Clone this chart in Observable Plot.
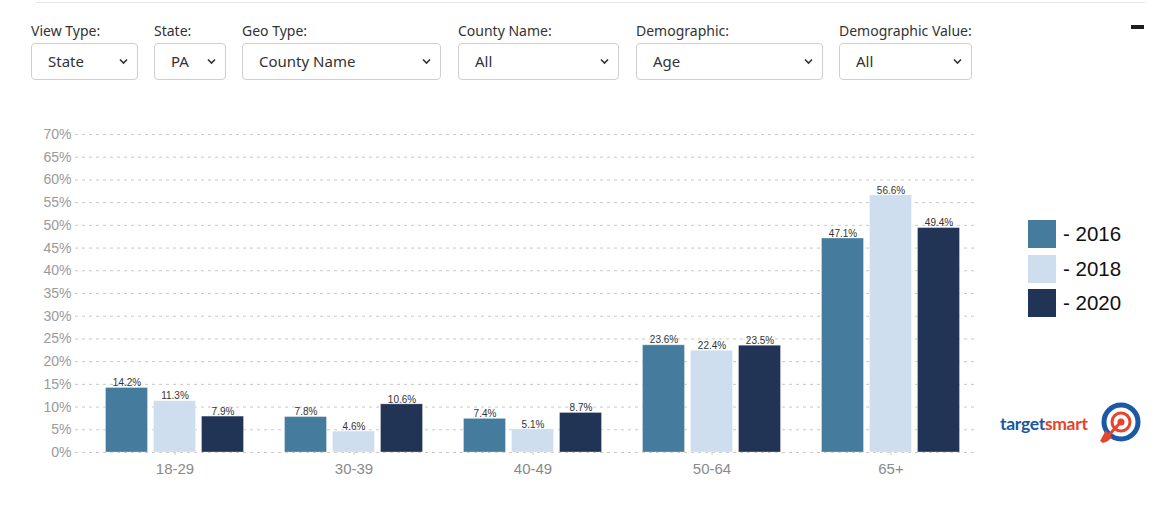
<!DOCTYPE html>
<html><head><meta charset="utf-8">
<script src="https://cdn.jsdelivr.net/npm/d3@7"></script>
<script src="https://cdn.jsdelivr.net/npm/@observablehq/plot@0.6"></script>
<style>
html,body{margin:0;padding:0;background:#fff;}
body{width:1165px;height:512px;position:relative;overflow:hidden;font-family:"Noto Sans",sans-serif;}
.topline{position:absolute;left:36px;top:2px;width:1109px;height:1px;background:#e6e6e6;}
.lbl{position:absolute;top:21px;font-size:14px;color:#333;line-height:20px;white-space:nowrap;}
.sel{position:absolute;top:43px;height:35px;border:1px solid #cfcfcf;border-radius:4px;box-sizing:content-box;font-size:15px;color:#333;line-height:35px;white-space:nowrap;}
.sel span{position:absolute;left:16px;top:0;}
.sel svg{position:absolute;right:9px;top:14px;}
.minus{position:absolute;left:1131px;top:25px;width:13px;height:4px;background:#1b1f24;}
#chart{position:absolute;left:0;top:100px;}
.sw{position:absolute;left:1028px;width:28px;height:28px;}
.lt{position:absolute;left:1063px;font-family:"Liberation Sans",Arial,sans-serif;font-size:20.5px;color:#111;line-height:28px;}
#logo{position:absolute;left:990px;top:395px;}
</style>
</head><body>
<div class="topline"></div>
<div id="controls"></div>
<div class="minus"></div>
<div id="chart"></div>
<div id="legend"></div>
<svg id="logo" width="160" height="55" viewBox="990 395 160 55">
  <text x="1000" y="430" font-family="Lato, 'Noto Sans', sans-serif" font-weight="700" font-size="17.5" letter-spacing="-0.3"><tspan fill="#1d55a1">target</tspan><tspan fill="#e8432d">smart</tspan></text>
  <circle cx="1121" cy="422" r="17" fill="#fff" stroke="#1b58a5" stroke-width="5"/>
  <circle cx="1121" cy="422" r="9" fill="#fff" stroke="#e8432d" stroke-width="3"/>
  <circle cx="1121" cy="422" r="3.5" fill="#e8432d"/>
  <line x1="1108" y1="436" x2="1119" y2="424" stroke="#e8432d" stroke-width="3"/>
  <polygon points="1100,441 1106,430 1109,434 1112,437 1108,441 1103,443" fill="#e8432d"/>
</svg>
<script>
// ---- data ----
const groups = ["18-29", "30-39", "40-49", "50-64", "65+"];
const years = ["2016", "2018", "2020"];
const values2016 = [14.2, 7.8, 7.4, 23.6, 47.1];
const values2018 = [11.3, 4.6, 5.1, 22.4, 56.6];
const values2020 = [7.9, 10.6, 8.7, 23.5, 49.4];
const yTicks = [0, 5, 10, 15, 20, 25, 30, 35, 40, 45, 50, 55, 60, 65, 70];
const filterLabels = ["View Type:", "State:", "Geo Type:", "County Name:", "Demographic:", "Demographic Value:"];
const filterValues = ["State", "PA", "County Name", "All", "Age", "All"];

// ---- styles / layout ----
const yearColors = ["#457b9d", "#cfdeee", "#213456"];
const filterBoxes = [[31, 107], [154, 72], [242, 199], [458, 161], [636, 187], [839, 133]];
const barOffsets = [-48, 0, 48];

// controls
const ctrl = document.getElementById("controls");
filterLabels.forEach((lab, i) => {
  const [left, w] = filterBoxes[i];
  const l = document.createElement("div");
  l.className = "lbl"; l.style.left = left + "px"; l.textContent = lab;
  ctrl.appendChild(l);
  const s = document.createElement("div");
  s.className = "sel"; s.style.left = left + "px"; s.style.width = (w - 2) + "px";
  s.innerHTML = `<span>${filterValues[i]}</span><svg width="9" height="7" viewBox="0 0 9 7"><path d="M1 1.5 L4.5 5 L8 1.5" fill="none" stroke="#333" stroke-width="1.6"/></svg>`;
  ctrl.appendChild(s);
});

// chart
const series = [values2016, values2018, values2020];
const marks = [
  Plot.gridY(yTicks, {stroke: "#c8c8c8", strokeOpacity: 1, strokeDasharray: "3,4"}),
  Plot.axisY(yTicks, {tickSize: 0, tickPadding: 4, tickFormat: d => d + "%", fontSize: 14, fill: "#9a9a9a", label: null}),
  Plot.axisX({tickSize: 3, tickPadding: 8, fontSize: 15, fill: "#8a8a8a", stroke: "#c8c8c8", label: null})
];
series.forEach((vals, i) => {
  const rows = groups.map((g, j) => ({group: g, value: vals[j], year: years[i]}));
  marks.push(Plot.barY(rows, {
    x: "group", y: "value", fill: yearColors[i], dx: barOffsets[i],
    insetLeft: 68.5, insetRight: 68.5, stroke: "#ffffff", strokeOpacity: 0.3, strokeWidth: 1
  }));
  marks.push(Plot.text(rows, {
    x: "group", y: "value", text: d => d.value.toFixed(1) + "%", dx: barOffsets[i], dy: -5,
    fontSize: 10, fill: "#333"
  }));
});

const plot = Plot.plot({
  width: 1000, height: 390,
  marginLeft: 75, marginRight: 25, marginTop: 34, marginBottom: 38,
  style: {fontFamily: "'Liberation Sans', Arial, sans-serif", background: "transparent", overflow: "visible"},
  x: {domain: groups, range: [84.5, 979.5], padding: 0, label: null},
  y: {domain: [0, 70], label: null},
  marks
});
document.getElementById("chart").appendChild(plot);

// legend
const leg = document.getElementById("legend");
const legTops = [220, 254.5, 289];
years.forEach((y, i) => {
  const sw = document.createElement("div");
  sw.className = "sw"; sw.style.top = legTops[i] + "px"; sw.style.background = yearColors[i];
  leg.appendChild(sw);
  const t = document.createElement("div");
  t.className = "lt"; t.style.top = legTops[i] + "px"; t.textContent = "- " + y;
  leg.appendChild(t);
});
</script>
</body></html>
